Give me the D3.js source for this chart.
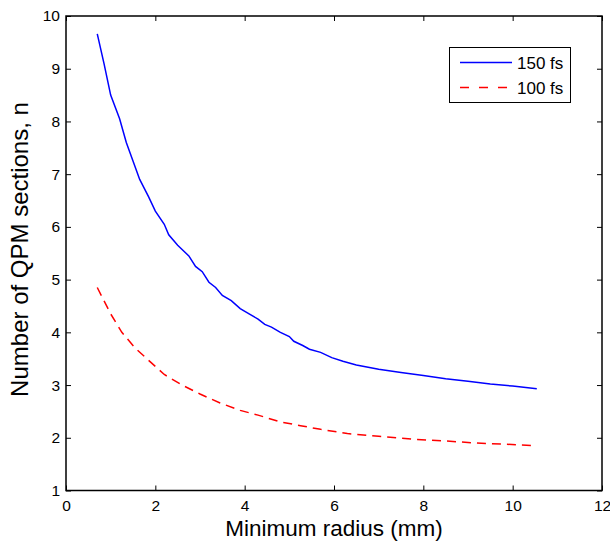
<!DOCTYPE html>
<html><head><meta charset="utf-8">
<script src="https://cdn.jsdelivr.net/npm/d3@7"></script>
<style>body{margin:0;background:#fff}text{font-family:"Liberation Sans",Arial,sans-serif}</style>
</head><body><svg id="c" width="610" height="541"></svg>
<script>
const xTicks=[0,2,4,6,8,10,12];
const yTicks=[1,2,3,4,5,6,7,8,9,10];
const seriesNames=["150 fs","100 fs"];
const x150=[0.7,0.85,1.0,1.2,1.35,1.5,1.65,1.85,2.0,2.2,2.3,2.5,2.75,2.9,3.05,3.2,3.35,3.5,3.7,3.9,4.1,4.3,4.45,4.6,4.8,5.0,5.1,5.3,5.45,5.7,5.95,6.2,6.5,7.0,7.5,8.0,8.5,9.0,9.5,10.0,10.54];
const y150=[9.66,9.1,8.5,8.05,7.6,7.25,6.9,6.57,6.3,6.05,5.85,5.65,5.45,5.25,5.15,4.95,4.85,4.7,4.6,4.45,4.35,4.25,4.15,4.1,4.0,3.92,3.83,3.75,3.68,3.62,3.52,3.45,3.38,3.3,3.24,3.18,3.12,3.07,3.02,2.98,2.93];
const x100=[0.7,0.85,1.0,1.25,1.55,1.9,2.2,2.6,3.0,3.45,3.9,4.3,4.8,5.25,5.7,6.3,7.0,7.8,8.5,9.2,9.8,10.54];
const y100=[4.85,4.6,4.35,4.0,3.7,3.43,3.2,3.0,2.83,2.66,2.52,2.43,2.3,2.23,2.16,2.08,2.03,1.97,1.94,1.9,1.88,1.85];

const L=66,R=602,T=16,B=490.5;
const svg=d3.select("#c");
const x=d3.scaleLinear().domain([0,12]).range([L,R]);
const y=d3.scaleLinear().domain([1,10]).range([B,T]);
const tl=5;
const g=svg.append("g");
const ax=g.append("g").attr("transform",`translate(0,${B})`).call(d3.axisBottom(x).tickValues(xTicks).tickSize(-tl).tickPadding(9).tickFormat(d3.format("d")));
const at=g.append("g").attr("transform",`translate(0,${T})`).call(d3.axisTop(x).tickValues(xTicks).tickSize(-tl).tickFormat(""));
const ay=g.append("g").attr("transform",`translate(${L},0)`).call(d3.axisLeft(y).tickValues(yTicks).tickSize(-tl).tickPadding(6).tickFormat(d3.format("d")));
const ar=g.append("g").attr("transform",`translate(${R},0)`).call(d3.axisRight(y).tickValues(yTicks).tickSize(-tl).tickFormat(""));
[ax,at,ay,ar].forEach(a=>{a.select(".domain").remove();a.selectAll("line").attr("stroke","#000").attr("stroke-width",1);a.selectAll("text").attr("font-size",15.5).attr("fill","#000").attr("font-family","'Liberation Sans',Arial,sans-serif");});
g.append("rect").attr("x",L).attr("y",T).attr("width",R-L).attr("height",B-T).attr("fill","none").attr("stroke","#000").attr("stroke-width",1.5);

const line=d3.line().x(d=>x(d[0])).y(d=>y(d[1]));
g.append("path").datum(x150.map((v,i)=>[v,y150[i]])).attr("d",line).attr("fill","none").attr("stroke","#0000ff").attr("stroke-width",1.5);
g.append("path").datum(x100.map((v,i)=>[v,y100[i]])).attr("d",line).attr("fill","none").attr("stroke","#ff0000").attr("stroke-width",1.5).attr("stroke-dasharray","9,6");

const lg=g.append("g");
lg.append("rect").attr("x",449.5).attr("y",47.5).attr("width",121).attr("height",55).attr("fill","#fff").attr("stroke","#000").attr("stroke-width",1);
const rows=[{n:seriesNames[0],c:"#0000ff",d:null,y:62.5},{n:seriesNames[1],c:"#ff0000",d:"9,10",y:87.5}];
rows.forEach(r=>{
  lg.append("line").attr("x1",460).attr("x2",512).attr("y1",r.y).attr("y2",r.y).attr("stroke",r.c).attr("stroke-width",1.5).attr("stroke-dasharray",r.d);
  lg.append("text").attr("x",517).attr("y",r.y+6).attr("font-size",17).text(r.n);
});
g.append("text").attr("x",334).attr("y",536).attr("text-anchor","middle").attr("font-size",22.5).text("Minimum radius (mm)");
g.append("text").attr("transform",`translate(28,249.5) rotate(-90)`).attr("text-anchor","middle").attr("font-size",24).text("Number of QPM sections, n");
</script></body></html>
